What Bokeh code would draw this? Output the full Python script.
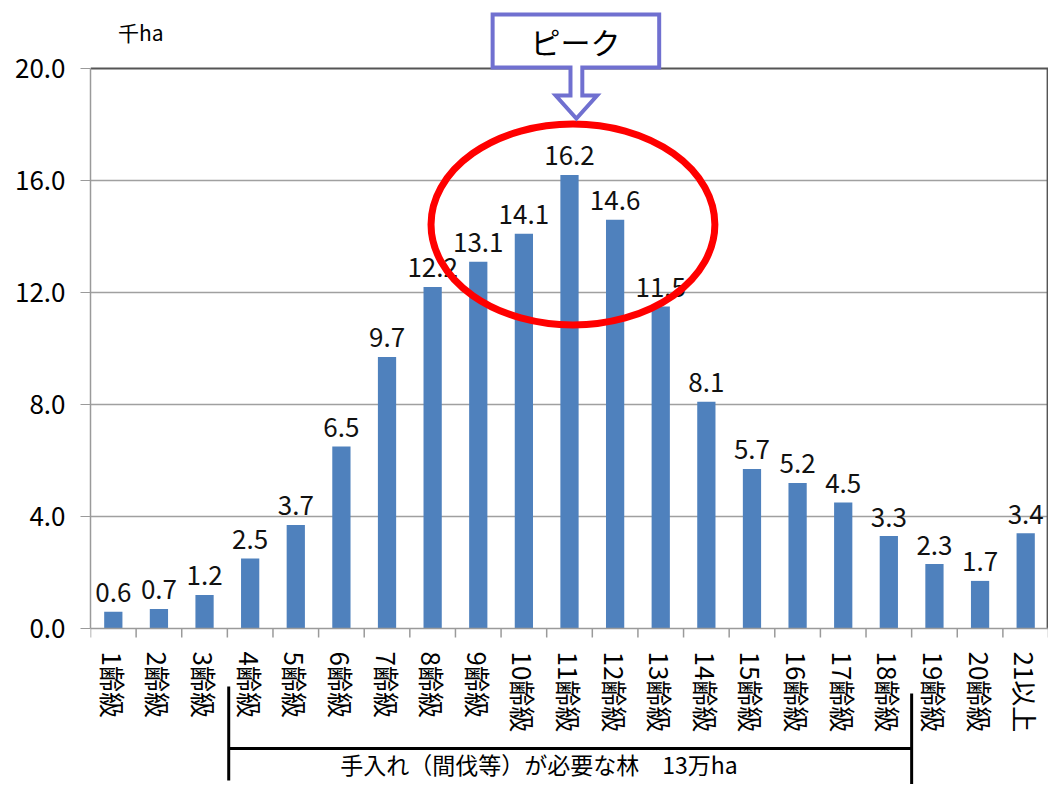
from bokeh.plotting import figure
from bokeh.models import FactorRange, Range1d, FixedTicker, NumeralTickFormatter, ColumnDataSource
from bokeh.core.properties import value
from bokeh.embed import file_html
from bokeh.resources import INLINE

# ---- data ----
categories = ["1齢級", "2齢級", "3齢級", "4齢級", "5齢級", "6齢級", "7齢級", "8齢級",
              "9齢級", "10齢級", "11齢級", "12齢級", "13齢級", "14齢級", "15齢級",
              "16齢級", "17齢級", "18齢級", "19齢級", "20齢級", "21以上"]
areas = [0.6, 0.7, 1.2, 2.5, 3.7, 6.5, 9.7, 12.2, 13.1, 14.1, 16.2, 14.6, 11.5,
         8.1, 5.7, 5.2, 4.5, 3.3, 2.3, 1.7, 3.4]
y_ticks = [0, 4, 8, 12, 16, 20]
unit_label = "千ha"
callout_text = "ピーク"
bracket_text = "手入れ（間伐等）が必要な林　13万ha"
bracket_from, bracket_to = "4齢級", "18齢級"

FONT = "Noto Sans CJK JP"
BAR = "#4F81BD"
CALLOUT = "#7070D0"

W, H = 1048, 784
LEFT = 90
PX_Y = 28.0                 # pixels per unit on y
Y_TOP = 20 + 68 / PX_Y
Y_BOT = -(H - 628) / PX_Y
REF_PX_X = 972 / len(categories)

def dx(sx):   # reference pixel -> x data
    return (sx - 90) / REF_PX_X

def dy(sy):   # reference pixel -> y data
    return (628 - sy) / PX_Y

p = figure(width=W, height=H, x_range=FactorRange(factors=categories),
           y_range=Range1d(Y_BOT, Y_TOP), output_backend="svg", toolbar_location=None,
           min_border_left=LEFT, min_border_right=0, min_border_top=0, min_border_bottom=0)
p.outline_line_color = None
p.background_fill_color = "white"
p.border_fill_color = "white"

# axes
p.xaxis.fixed_location = 0
p.xaxis.major_label_orientation = "vertical"
p.xaxis.major_tick_line_color = None
p.xaxis.minor_tick_line_color = None
p.xaxis.axis_line_color = "#9a9a9a"
p.xaxis.axis_line_width = 1.5
p.xaxis.major_label_text_font = FONT
p.xaxis.major_label_text_font_size = "26px"
p.xaxis.major_label_text_color = "black"
p.xaxis.major_label_standoff = 17

p.yaxis.ticker = FixedTicker(ticks=y_ticks)
p.yaxis.bounds = (0, 20)
p.yaxis.formatter = NumeralTickFormatter(format="0.0")
p.yaxis.axis_line_color = "#9a9a9a"
p.yaxis.axis_line_width = 1.5
p.yaxis.major_tick_line_color = "#9a9a9a"
p.yaxis.major_tick_out = 10
p.yaxis.major_tick_in = 0
p.yaxis.minor_tick_line_color = None
p.yaxis.major_label_text_font = FONT
p.yaxis.major_label_text_font_size = "26px"
p.yaxis.major_label_text_color = "black"
p.yaxis.major_label_standoff = 15

p.xgrid.grid_line_color = None
p.ygrid.ticker = FixedTicker(ticks=[4, 8, 12, 16])
p.ygrid.grid_line_color = "#a0a0a0"
p.ygrid.grid_line_width = 1.5

# frame top / right border
n = len(categories)
p.line(x=[0, n], y=[20, 20], line_color="#555555", line_width=2)
p.line(x=[n - 0.02, n - 0.02], y=[0, 20], line_color="#555555", line_width=2)

# tick marks at category boundaries
bnds = list(range(n + 1))
p.segment(x0=bnds, y0=[0] * len(bnds), x1=bnds, y1=[-9 / PX_Y] * len(bnds),
          line_color="#9a9a9a", line_width=1.5)

src = ColumnDataSource(dict(cat=categories, v=areas, lab=[f"{a:.1f}" for a in areas]))
p.vbar(x="cat", top="v", width=0.4, source=src, fill_color=BAR, line_color=None)
p.text(x="cat", y="v", text="lab", source=src, text_align="center",
       text_baseline="alphabetic", y_offset=-19, text_font=value(FONT),
       text_font_size="26px", text_color="#111111")

# unit label
p.text(x=[dx(118)], y=[dy(31)], text=[unit_label], text_align="left", text_baseline="middle",
       text_font=value(FONT), text_font_size="21px", text_color="black")

# red ellipse
p.ellipse(x=[dx(579.5)], y=[dy(224)], width=[288 / REF_PX_X], height=[201 / PX_Y],
          fill_color=None, line_color="#FF0000", line_width=7)

# callout
cx = [498, 667, 667, 589, 589, 604, 583, 562, 577, 577, 498]
cy = [14, 14, 67, 67, 95, 95, 118, 95, 95, 67, 67]
p.patch(x=[dx(v) for v in cx], y=[dy(v) for v in cy], fill_color="white",
        line_color=CALLOUT, line_width=4, line_join="miter")
p.text(x=[dx(582)], y=[dy(40)], text=[callout_text], text_align="center", text_baseline="middle",
       text_font=value(FONT), text_font_size="30px", text_color="black")

# bracket (between category boundaries)
bx0 = categories.index(bracket_from) + 0.03
bx1 = categories.index(bracket_to) + 1.0
p.line(x=[bx0, bx0], y=[dy(686), dy(780)], line_color="black", line_width=3)
p.line(x=[bx0, bx1], y=[dy(748), dy(748)], line_color="black", line_width=3)
p.line(x=[bx1, bx1], y=[dy(693), Y_BOT], line_color="black", line_width=3)
p.text(x=[dx(545)], y=[dy(763)], text=[bracket_text], text_align="center", text_baseline="middle",
       text_font=value(FONT), text_font_size="23px", text_color="black")

open("out.html", "w").write(file_html(p, INLINE))
